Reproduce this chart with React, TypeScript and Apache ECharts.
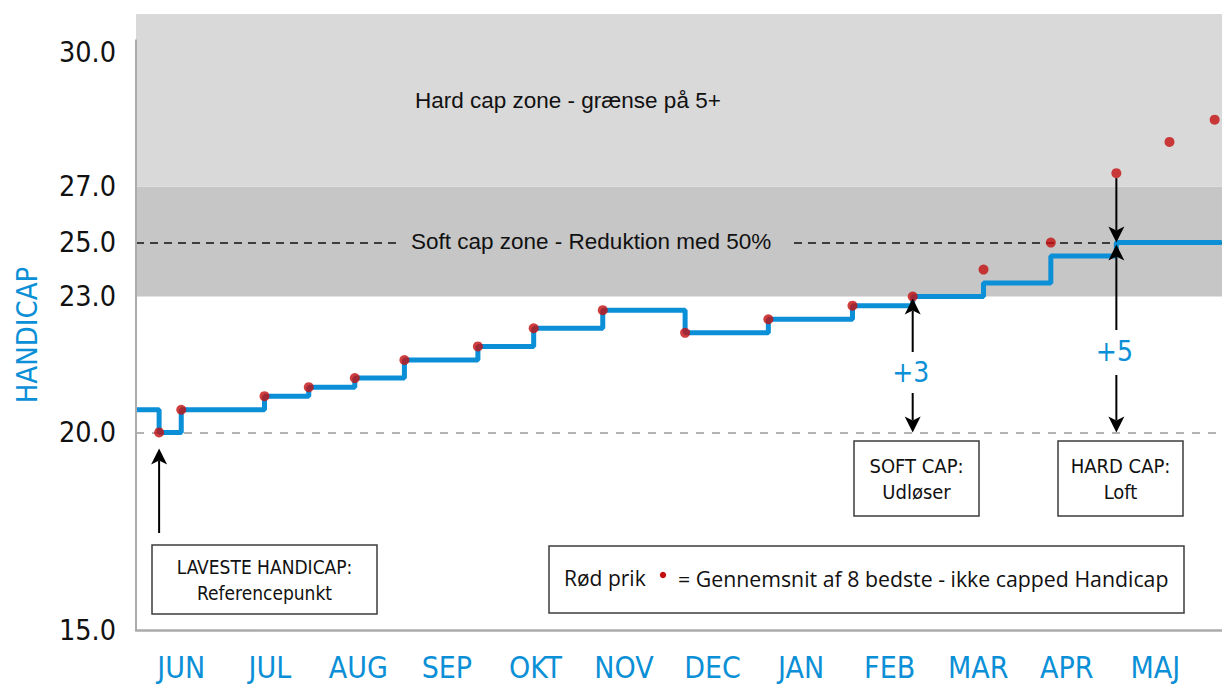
import React, { useEffect, useRef } from 'react';
import * as echarts from 'echarts';

// ---- data ----
const months = ['JUN', 'JUL', 'AUG', 'SEP', 'OKT', 'NOV', 'DEC', 'JAN', 'FEB', 'MAR', 'APR', 'MAJ'];
const yTicks = [15, 20, 23, 25, 27, 30];
// the reference uses an uneven vertical scale: axis coordinate of each tick value
const yTickPos = [0, 197.5, 333.3, 387.3, 443.3, 577];

// red dots (x in months counted from JUN, y = uncapped handicap)
const dotX = [-0.25, 0.0, 0.94, 1.44, 1.96, 2.52, 3.35, 3.98, 4.76, 5.69, 6.63, 7.58, 8.26, 9.06, 9.82, 10.56, 11.16, 11.67];
const dotY = [20.0, 20.5, 20.8, 21.0, 21.2, 21.6, 21.9, 22.3, 22.7, 22.2, 22.5, 22.8, 23.0, 24.0, 25.0, 27.3, 28.0, 28.5];
// capped handicap (blue step line)
const capX = [-0.51, -0.25, 0.0, 0.94, 1.44, 1.96, 2.52, 3.35, 3.98, 4.76, 5.69, 6.63, 7.58, 8.26, 9.06, 9.82, 10.56, 11.75];
const capY = [20.5, 20.0, 20.5, 20.8, 21.0, 21.2, 21.6, 21.9, 22.3, 22.7, 22.2, 22.5, 22.8, 23.0, 23.5, 24.5, 25.0, 25.0];

const lowest = 20.0;
const softCap = 23.0;
const hardCap = 25.0;
const hardZoneTop = 27.0;
const yTopValue = 30.87;
const xMin = -0.511;
const xMax = 11.753;

const BLUE = '#0b8fd6';
const RED = '#c40f0f';
const NARROW = "'Liberation Sans Narrow', 'DejaVu Sans Condensed', 'Liberation Sans', sans-serif";
const SANS = "'Liberation Sans', Arial, sans-serif";
const LEGEND_FONT = "'Open Sans', 'Noto Sans', sans-serif";

function toAxis(v: number): number {
  for (let i = 1; i < yTicks.length; i++) {
    if (v <= yTicks[i] || i === yTicks.length - 1) {
      const a = yTicks[i - 1];
      const b = yTicks[i];
      return yTickPos[i - 1] + ((v - a) / (b - a)) * (yTickPos[i] - yTickPos[i - 1]);
    }
  }
  return 0;
}

function arrow(x: number, tipY: number, tailY: number): any[] {
  const dir = tipY < tailY ? 1 : -1; // 1: pointing up
  const h = 16;
  const w = 8;
  const baseY = tipY + dir * h;
  const notchY = tipY + dir * (h - 4);
  return [
    {
      type: 'line',
      z: 100,
      shape: { x1: x, y1: notchY, x2: x, y2: tailY },
      style: { stroke: '#000', lineWidth: 2 },
    },
    {
      type: 'polygon',
      z: 101,
      shape: { points: [[x, tipY], [x - w, baseY], [x, notchY], [x + w, baseY]] },
      style: { fill: '#000' },
    },
  ];
}

function box(x1: number, y1: number, x2: number, y2: number, lines: string[], size: number): any[] {
  const cx = (x1 + x2) / 2;
  const cy = (y1 + y2) / 2;
  const lh = 26;
  const out: any[] = [
    {
      type: 'rect',
      z: 100,
      shape: { x: x1, y: y1, width: x2 - x1, height: y2 - y1 },
      style: { fill: '#fff', stroke: '#3c3c3c', lineWidth: 1.5 },
    },
  ];
  lines.forEach((t, i) => {
    out.push({
      type: 'text',
      z: 101,
      x: cx,
      y: cy + (i - (lines.length - 1) / 2) * lh,
      style: { text: t, fill: '#111', font: `${size}px ${NARROW}`, align: 'center', verticalAlign: 'middle' },
    });
  });
  return out;
}

export default function App() {
  const ref = useRef<HTMLDivElement>(null);

  useEffect(() => {
    document.body.style.margin = '0';
    if (!ref.current) return;
    const chart = echarts.init(ref.current, undefined, { renderer: 'svg' });

    const option: any = {
      animation: false,
      grid: { left: 136, right: 0, top: 14, bottom: 54 },
      xAxis: {
        type: 'value',
        min: xMin,
        max: xMax,
        axisLine: { show: true, lineStyle: { color: '#ababab', width: 2.5 } },
        axisTick: { show: false },
        splitLine: { show: false },
        axisLabel: {
          customValues: months.map((_, i) => i),
          formatter: (v: number) => months[Math.round(v)],
          color: BLUE,
          fontSize: 30,
          fontFamily: NARROW,
          margin: 22,
        },
      },
      yAxis: {
        type: 'value',
        min: 0,
        max: toAxis(yTopValue),
        axisLine: { show: false },
        axisTick: { show: false },
        splitLine: { show: false },
        axisLabel: {
          customValues: yTickPos,
          formatter: (v: number) => {
            let best = 0;
            yTickPos.forEach((p, i) => {
              if (Math.abs(p - v) < Math.abs(yTickPos[best] - v)) best = i;
            });
            return yTicks[best].toFixed(1);
          },
          color: '#111',
          fontSize: 28.5,
          fontFamily: NARROW,
          margin: 20,
        },
      },
      series: [
        {
          type: 'line',
          name: 'zones',
          data: [],
          z: 1,
          markArea: {
            silent: true,
            z: 1,
            data: [
              [
                { yAxis: toAxis(softCap), itemStyle: { color: '#c6c6c6' } },
                { yAxis: toAxis(hardZoneTop) },
              ],
              [
                { yAxis: toAxis(hardZoneTop), itemStyle: { color: '#d9d9d9' } },
                { yAxis: toAxis(yTopValue) },
              ],
            ],
          },
          markLine: {
            silent: true,
            z: 2,
            symbol: ['none', 'none'],
            label: { show: false },
            data: [
              { yAxis: toAxis(lowest), lineStyle: { color: '#b3b3b3', type: [8, 8], width: 2 } },
              { yAxis: toAxis(hardCap), lineStyle: { color: '#111', type: [8, 6], width: 1.5 } },
            ],
          },
        },
        {
          type: 'line',
          name: 'Capped handicap',
          step: 'end',
          symbol: 'none',
          z: 3,
          lineStyle: { color: BLUE, width: 5 },
          data: capX.map((x, i) => [x, toAxis(capY[i])]),
        },
        {
          type: 'scatter',
          name: 'Gennemsnit af 8 bedste',
          z: 4,
          symbolSize: 10,
          itemStyle: { color: RED },
          data: dotX.map((x, i) => [x, toAxis(dotY[i])]),
        },
      ],
    };
    chart.setOption(option);

    const px = (x: number, v: number) => chart.convertToPixel({ xAxisIndex: 0, yAxisIndex: 0 }, [x, toAxis(v)]) as number[];
    const pLow = px(dotX[0], lowest);
    const p20 = px(xMin, lowest);
    const p25 = px(xMin, hardCap);
    const pTopAxis = px(xMin, 30.3);
    const pBottom = px(xMin, yTicks[0]);
    const pSoft = px(dotX[12], dotY[12]);
    const pHard = px(dotX[15], dotY[15]);

    const graphic: any[] = [
      // y axis line
      {
        type: 'line',
        z: 50,
        shape: { x1: pBottom[0], y1: pTopAxis[1], x2: pBottom[0], y2: pBottom[1] },
        style: { stroke: '#ababab', lineWidth: 2 },
      },
      {
        type: 'text',
        z: 100,
        x: 26.5,
        y: 335,
        rotation: Math.PI / 2,
        style: { text: 'HANDICAP', fill: BLUE, font: `29px ${NARROW}`, align: 'center', verticalAlign: 'middle' },
      },
      {
        type: 'text',
        z: 100,
        x: 415,
        y: 100,
        style: { text: 'Hard cap zone - grænse på 5+', fill: '#111', font: `22.5px ${SANS}`, align: 'left', verticalAlign: 'middle' },
      },
      {
        type: 'rect',
        z: 60,
        shape: { x: 396, y: p25[1] - 12, width: 392, height: 24 },
        style: { fill: '#c6c6c6' },
      },
      {
        type: 'text',
        z: 100,
        x: 411,
        y: p25[1] - 1,
        style: { text: 'Soft cap zone - Reduktion med 50%', fill: '#111', font: `22.5px ${SANS}`, align: 'left', verticalAlign: 'middle' },
      },
      // lowest handicap arrow
      ...arrow(pLow[0], pLow[1] + 16, 533),
      ...box(152, 545, 377, 614, ['LAVESTE HANDICAP:', 'Referencepunkt'], 19),
      // soft cap
      ...arrow(pSoft[0], pSoft[1] + 2, 352),
      {
        type: 'text',
        z: 100,
        x: pSoft[0] - 2,
        y: 372,
        style: { text: '+3', fill: BLUE, font: `28px ${NARROW}`, align: 'center', verticalAlign: 'middle' },
      },
      ...arrow(pSoft[0], p20[1], 393),
      ...box(854, 441, 979, 516, ['SOFT CAP:', 'Udløser'], 20),
      // hard cap
      ...arrow(pHard[0], p25[1], pHard[1] + 5),
      ...arrow(pHard[0], p25[1] + 2, 330),
      {
        type: 'text',
        z: 100,
        x: pHard[0] - 2,
        y: 351,
        style: { text: '+5', fill: BLUE, font: `28px ${NARROW}`, align: 'center', verticalAlign: 'middle' },
      },
      ...arrow(pHard[0], p20[1], 375),
      ...box(1058, 441, 1183, 516, ['HARD CAP:', 'Loft'], 20),
      // legend
      {
        type: 'rect',
        z: 100,
        shape: { x: 549, y: 546, width: 635, height: 67 },
        style: { fill: '#fff', stroke: '#3c3c3c', lineWidth: 1.5 },
      },
      {
        type: 'text',
        z: 101,
        x: 564,
        y: 578,
        style: { text: 'Rød prik', fill: '#111', font: `21px ${LEGEND_FONT}`, align: 'left', verticalAlign: 'middle' },
      },
      {
        type: 'circle',
        z: 101,
        shape: { cx: 663, cy: 575, r: 3.2 },
        style: { fill: RED },
      },
      {
        type: 'text',
        z: 101,
        x: 678,
        y: 578,
        style: { text: '= Gennemsnit af 8 bedste - ikke capped Handicap', fill: '#111', font: `21.3px ${LEGEND_FONT}`, align: 'left', verticalAlign: 'middle' },
      },
    ];
    chart.setOption({ graphic });

    return () => chart.dispose();
  }, []);

  return <div ref={ref} style={{ width: 1222, height: 684 }} />;
}
